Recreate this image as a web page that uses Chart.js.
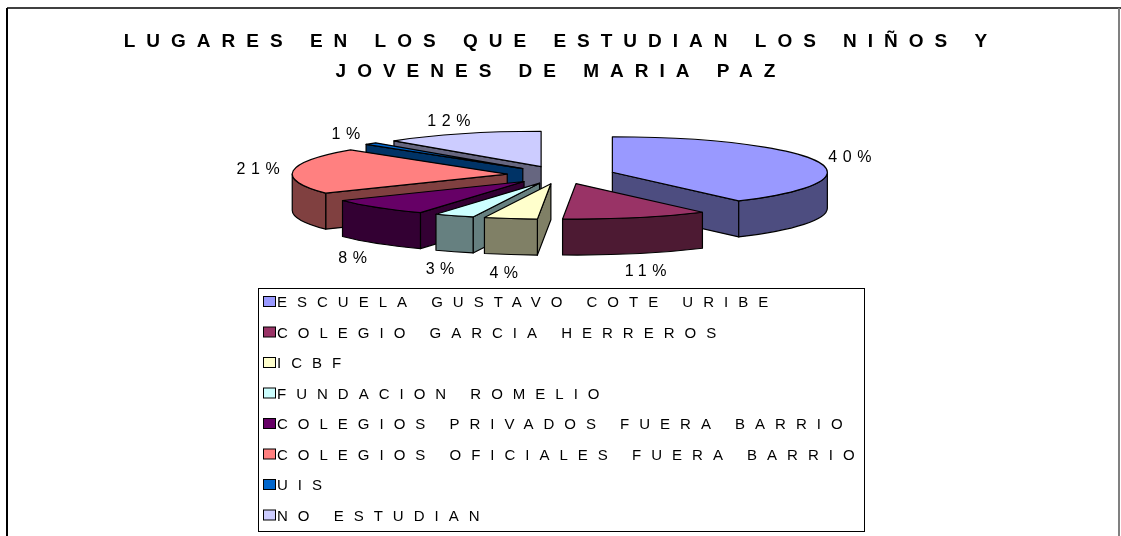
<!DOCTYPE html>
<html>
<head>
<meta charset="utf-8">
<script src="https://cdn.jsdelivr.net/npm/chart.js@4.4.0/dist/chart.umd.min.js"></script>
<style>
  html, body { margin: 0; padding: 0; background: #fff; }
</style>
</head>
<body>
<canvas id="lugaresChart" width="1121" height="536"></canvas>
<script>
const categories = [
  "ESCUELA GUSTAVO COTE URIBE",
  "COLEGIO GARCIA HERREROS",
  "ICBF",
  "FUNDACION ROMELIO",
  "COLEGIOS PRIVADOS FUERA BARRIO",
  "COLEGIOS OFICIALES FUERA BARRIO",
  "UIS",
  "NO ESTUDIAN",
];
const percents = [40, 11, 4, 3, 8, 21, 1, 12];
const titleLines = ["LUGARES EN LOS QUE ESTUDIAN LOS NIÑOS Y", "JOVENES DE MARIA PAZ"];

const topColors = ["#9999FF", "#993366", "#FFFFCC", "#CCFFFF", "#660066", "#FF8080", "#0066CC", "#CCCCFF"];
const sideColors = ["#4D4D80", "#4D1A33", "#808066", "#668080", "#330033", "#804040", "#003366", "#666680"];

// squash of the pie top and thickness of the 3d walls
const TILT = 0.165;
const DEPTH = 36;
const FONT = "'Liberation Sans', Arial, sans-serif";

function drawSlice(ctx, s) {
  const { ax, ay, r, a0, a1, i } = s;
  const pt = (a) => [ax + Math.cos(a) * r, ay + Math.sin(a) * r * TILT];

  ctx.fillStyle = sideColors[i];
  // cut faces, only the ones turned to the viewer
  [[a0, -Math.cos(a0)], [a1, Math.cos(a1)]].forEach(([a, vis]) => {
    if (vis <= 0.001) return;
    const [x, y] = pt(a);
    ctx.beginPath();
    ctx.moveTo(ax, ay);
    ctx.lineTo(x, y);
    ctx.lineTo(x, y + DEPTH);
    ctx.lineTo(ax, ay + DEPTH);
    ctx.closePath();
    ctx.fill();
    ctx.stroke();
  });

  // outer wall (front half only)
  const s0 = Math.max(a0, 0);
  const s1 = Math.min(a1, Math.PI);
  if (s0 < s1) {
    ctx.beginPath();
    ctx.ellipse(ax, ay, r, r * TILT, 0, s0, s1);
    ctx.ellipse(ax, ay + DEPTH, r, r * TILT, 0, s1, s0, true);
    ctx.closePath();
    ctx.fill();
    ctx.stroke();
  }

  // top face
  ctx.fillStyle = topColors[i];
  ctx.beginPath();
  ctx.moveTo(ax, ay);
  ctx.ellipse(ax, ay, r, r * TILT, 0, a0, a1);
  ctx.closePath();
  ctx.fill();
  ctx.stroke();
}

const pie3d = {
  id: "pie3d",
  beforeDraw(chart) {
    const ctx = chart.ctx;
    ctx.save();
    ctx.fillStyle = "#fff";
    ctx.fillRect(0, 0, chart.width, chart.height);
    ctx.lineWidth = 2;
    ctx.strokeStyle = "#404040";
    ctx.beginPath();
    ctx.moveTo(7, 8);
    ctx.lineTo(1121, 8);
    ctx.stroke();
    ctx.strokeStyle = "#000";
    ctx.beginPath();
    ctx.moveTo(7, 8);
    ctx.lineTo(7, 536);
    ctx.stroke();
    ctx.strokeStyle = "#808080";
    ctx.beginPath();
    ctx.moveTo(1119, 8);
    ctx.lineTo(1119, 536);
    ctx.stroke();
    ctx.restore();
    // spaced out title letters
    ctx.letterSpacing = "11px";
  },
  beforeDatasetsDraw(chart) {
    const ctx = chart.ctx;
    ctx.letterSpacing = "0px";
    const meta = chart.getDatasetMeta(0);
    const slices = meta.data.map((arc, i) => {
      const p = arc.getProps(["x", "y", "startAngle", "endAngle", "outerRadius"], true);
      const mid = (p.startAngle + p.endAngle) / 2;
      const off = arc.options.offset;
      return {
        i, mid,
        a0: p.startAngle, a1: p.endAngle, r: p.outerRadius,
        ax: p.x + Math.cos(mid) * off,
        ay: p.y + Math.sin(mid) * off * TILT,
      };
    });

    ctx.save();
    ctx.strokeStyle = "#000";
    ctx.lineWidth = 1.2;
    ctx.lineJoin = "round";
    slices.slice().sort((a, b) => Math.sin(a.mid) - Math.sin(b.mid))
      .forEach((s) => drawSlice(ctx, s));

    // percentage labels
    ctx.fillStyle = "#000";
    ctx.font = "16px " + FONT;
    ctx.letterSpacing = "5.5px";
    ctx.textAlign = "center";
    ctx.textBaseline = "middle";
    slices.forEach((s) => {
      const R = s.r + 35;
      const c = Math.cos(s.mid), sn = Math.sin(s.mid);
      const x = s.ax + R * c + 2.5;
      const y = s.ay + sn * (R * TILT + 7) + (sn > 0 ? DEPTH + 6 : 0);
      ctx.fillText(percents[s.i] + "%", x, y);
    });
    ctx.restore();
    return false;
  },
  afterDraw(chart) {
    const ctx = chart.ctx;
    const labels = chart.data.labels;
    ctx.save();
    ctx.letterSpacing = "0px";
    ctx.strokeStyle = "#000";
    ctx.lineWidth = 1;
    ctx.strokeRect(258.5, 288.5, 606, 243);
    ctx.font = "15px " + FONT;
    ctx.letterSpacing = "10px";
    ctx.textBaseline = "middle";
    ctx.textAlign = "left";
    labels.forEach((lab, i) => {
      const y = 302 + i * 30.5;
      ctx.fillStyle = topColors[i];
      ctx.fillRect(263.5, y - 5.5, 12, 10);
      ctx.strokeRect(263.5, y - 5.5, 12, 10);
      ctx.fillStyle = "#000";
      ctx.fillText(lab, 277, y + 1);
    });
    ctx.restore();
  },
};

new Chart(document.getElementById("lugaresChart"), {
  type: "pie",
  data: {
    labels: categories,
    datasets: [
      {
        data: percents,
        backgroundColor: topColors,
        borderColor: "#000",
        borderWidth: 1,
        offset: 54,
      },
    ],
  },
  options: {
    responsive: false,
    animation: false,
    devicePixelRatio: 1,
    events: [],
    radius: 215,
    layout: { padding: { top: 0, left: 1, right: 0, bottom: 273 } },
    plugins: {
      legend: { display: false },
      tooltip: { enabled: false },
      title: {
        display: true,
        text: titleLines,
        color: "#000",
        font: { family: FONT, size: 19, weight: "bold", lineHeight: "30px" },
        padding: { top: 27, bottom: 0 },
      },
    },
  },
  plugins: [pie3d],
});
</script>
</body>
</html>
